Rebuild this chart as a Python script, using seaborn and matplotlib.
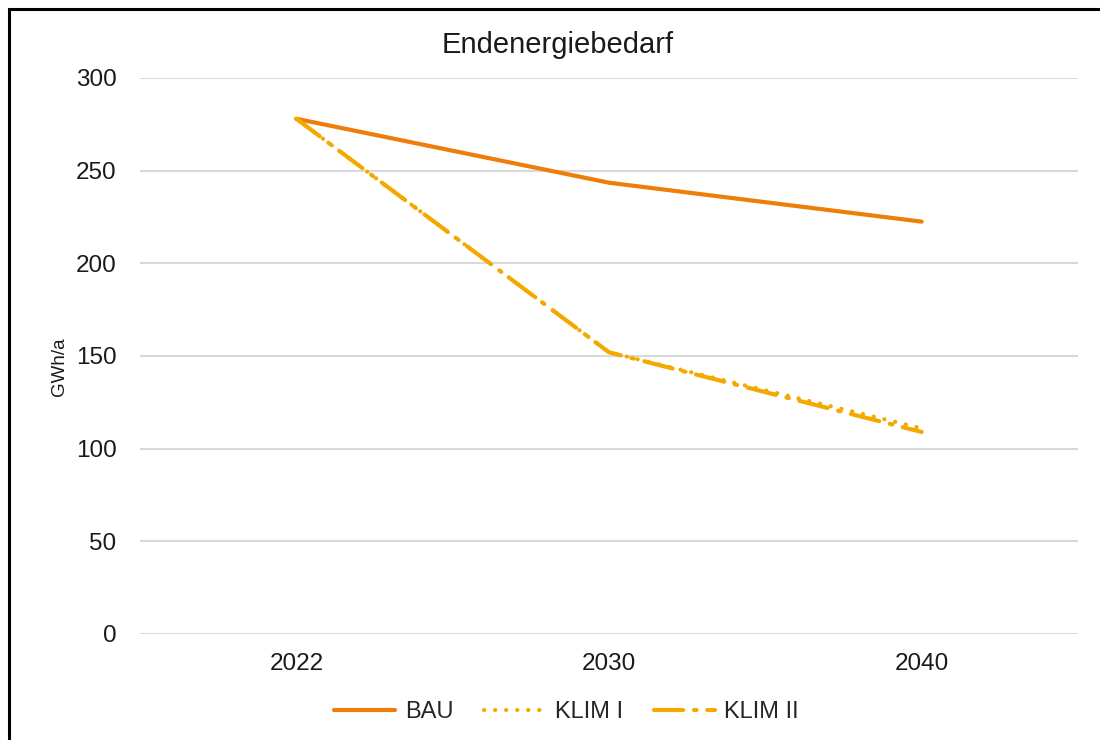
import numpy as np
import pandas as pd
import matplotlib.pyplot as plt
import matplotlib.patches as mpatches
import seaborn as sns

# data
years = ["2022", "2030", "2040"]
bau = [278, 243.5, 222.5]
klim1 = [278, 152, 111]
klim2 = [278, 152, 109]
series_names = ["BAU", "KLIM I", "KLIM II"]

colors = {"BAU": "#EE7D0A", "KLIM I": "#F4A900", "KLIM II": "#F4A900"}
dashes = {"BAU": "", "KLIM I": (0.05, 2.6), "KLIM II": (7, 2.6, 0.6, 2.6)}

df = pd.DataFrame({
    "Jahr": years * 3,
    "Wert": bau + klim1 + klim2,
    "Szenario": np.repeat(series_names, len(years)),
})

sns.set_theme(style="white")
plt.rcParams['font.family'] = ['Liberation Sans', 'DejaVu Sans']

fig = plt.figure(figsize=(11, 7.4), dpi=100)
ax = fig.add_axes([140/1100, 1-634/740, (1078-140)/1100, (634-78)/740])

sns.lineplot(data=df, x="Jahr", y="Wert", hue="Szenario", style="Szenario",
             palette=colors, dashes=dashes, linewidth=3.0, sort=False,
             dash_capstyle="round", solid_capstyle="round", ax=ax)

ax.set_xlim(-0.5, 2.5)
ax.set_ylim(0, 300)
ax.set_yticks(np.arange(0, 301, 50))
ax.yaxis.grid(True, color="#D9D9D9", linewidth=1.5)
ax.set_axisbelow(True)
for s in ax.spines.values():
    s.set_visible(False)
ax.tick_params(axis="both", length=0, labelsize=17.5, colors="#1a1a1a")
ax.tick_params(axis="y", pad=17)
ax.tick_params(axis="x", pad=14)
ax.set_xlabel("")
ax.set_ylabel("GWh/a", fontsize=13.5, color="#1a1a1a")
ax.yaxis.set_label_coords(-72/938, 0.48)

fig.text(0.507, 1-45/740, "Endenergiebedarf", ha="center", va="center",
         fontsize=21, color="#1a1a1a")

handles, labels = ax.get_legend_handles_labels()
ax.legend_.remove()
fig.legend(handles, labels, loc="center", bbox_to_anchor=(0.515, 1-712/740),
           ncol=3, frameon=False, fontsize=17, handlelength=2.6,
           handletextpad=0.4, columnspacing=1.3)

# outer frame (only top/left visible in the reference crop)
fig.add_artist(mpatches.Rectangle((9/1100, -0.1), 1.2, 1.1 - 9/740,
                                  transform=fig.transFigure, fill=False,
                                  edgecolor="black", linewidth=2.2))

plt.savefig("out.png", dpi=100)
